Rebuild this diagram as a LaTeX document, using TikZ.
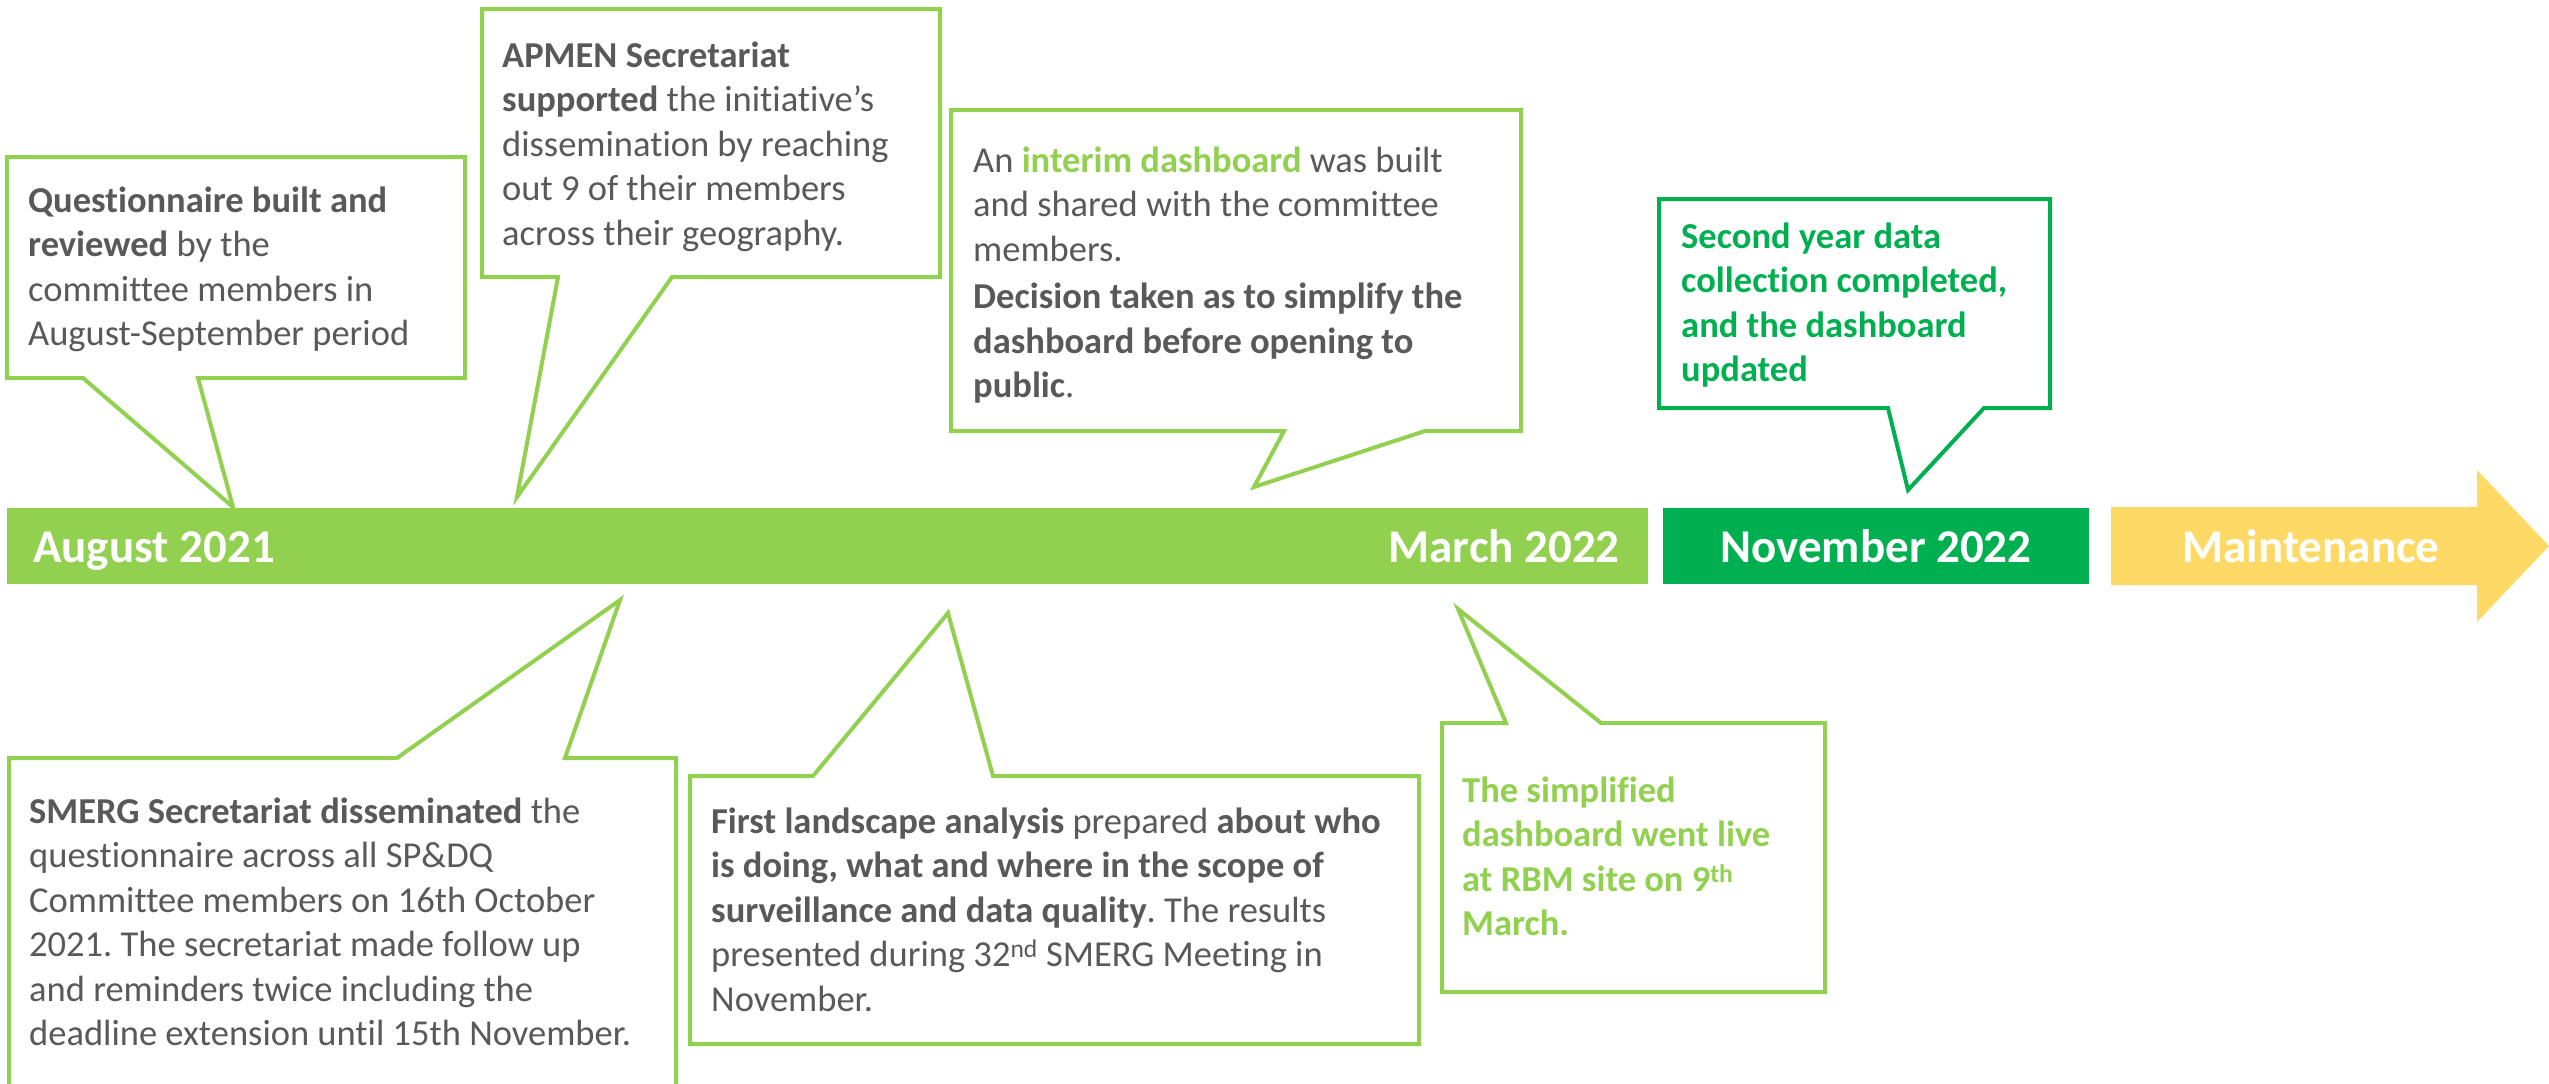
\documentclass[tikz,border=0pt]{standalone}
\usepackage{fontspec}
\setmainfont{Carlito}[Ligatures={NoCommon}]
\frenchspacing
\definecolor{lgreen}{HTML}{92D050}
\definecolor{dgreen}{HTML}{00B050}
\definecolor{yell}{HTML}{FFD966}
\definecolor{txt}{HTML}{595959}
\tikzset{
  callout/.style={draw=lgreen, line width=4pt, fill=white, line join=miter, miter limit=6},
  dcallout/.style={callout, draw=dgreen},
  bodytext/.style={anchor=north west, inner sep=0pt, align=left, text=txt,
    font=\fontsize{36.5}{44.5}\selectfont},
  barlabel/.style={inner sep=0pt, text=white, font=\fontsize{47}{56}\selectfont\bfseries}
}
\begin{document}
\begin{tikzpicture}[x=1pt,y=-1pt]
\useasboundingbox (0,0) rectangle (2549,1084);
\clip (0,0) rectangle (2549,1084);
\fill[white] (0,0) rectangle (2549,1084);

% timeline bars
\fill[lgreen] (7,508) rectangle (1648,584);
\fill[dgreen] (1663,508) rectangle (2089,584);
\fill[yell] (2111,507) -- (2477,507) -- (2477,470) -- (2549,546) -- (2477,622) -- (2477,585) -- (2111,585) -- cycle;

\node[barlabel, anchor=base west] (l1) at (33,562) {August 2021};
\node[barlabel, anchor=base east] (l2) at (1620,562) {March 2022};
\node[barlabel, anchor=base] (l3) at (1876,562) {November 2022};
\node[barlabel, anchor=base] (l4) at (2311,562) {Maintenance};

% callouts above
\draw[callout] (7,157) -- (465,157) -- (465,378) -- (198,378) -- (233,507) -- (83,378) -- (7,378) -- cycle;
\draw[callout] (482,9) -- (940,9) -- (940,277) -- (672,277) -- (517,497) -- (558,277) -- (482,277) -- cycle;
\draw[callout] (951,110) -- (1521,110) -- (1521,431) -- (1425,431) -- (1254,487) -- (1284,431) -- (951,431) -- cycle;
\draw[dcallout] (1659,199) -- (2050,199) -- (2050,408) -- (1984,408) -- (1908,490) -- (1888,408) -- (1659,408) -- cycle;

% callouts below
\draw[callout] (9,758) -- (397,758) -- (620,600) -- (565,758) -- (676,758) -- (676,1100) -- (9,1100) -- cycle;
\draw[callout] (690,776) -- (813,776) -- (948,613) -- (993,776) -- (1419,776) -- (1419,1044) -- (690,1044) -- cycle;
\draw[callout] (1442,723) -- (1506,723) -- (1458,609) -- (1601,723) -- (1825,723) -- (1825,992) -- (1442,992) -- cycle;

% texts
\node[bodytext] (t1) at (28,180.85) {\strut\textbf{Questionnaire built and}\\
\textbf{reviewed} by the\\
committee members in\\
August-September period};

\node[bodytext] (t2) at (502,35.85) {\strut\textbf{APMEN Secretariat}\\
\textbf{supported} the initiative’s\\
dissemination by reaching\\
out 9 of their members\\
across their geography.};

\node[bodytext] (t3) at (973,140.85) {\strut An \textcolor{lgreen}{\textbf{interim dashboard}} was built\\
and shared with the committee\\
members.\\[3pt]
\textbf{Decision taken as to simplify the}\\
\textbf{dashboard before opening to}\\
\textbf{public}.};

\node[bodytext, text=dgreen, font=\fontsize{36.5}{44.5}\selectfont\bfseries] (t4) at (1681,216.85) {\strut Second year data\\
collection completed,\\
and the dashboard\\
updated};

\node[bodytext] (t5) at (29,791.85) {\strut\textbf{SMERG Secretariat disseminated} the\\
questionnaire across all SP\&DQ\\
Committee members on 16th October\\
2021. The secretariat made follow up\\
and reminders twice including the\\
deadline extension until 15th November.};

\node[bodytext] (t6) at (711,801.85) {\strut\textbf{First landscape analysis} prepared \textbf{about who}\\
\textbf{is doing, what and where in the scope of}\\
\textbf{surveillance and data quality}. The results\\
presented during 32\textsuperscript{nd} SMERG Meeting in\\
November.};

\node[bodytext, text=lgreen, font=\fontsize{36.5}{44.5}\selectfont\bfseries] (t7) at (1462,770.85) {\strut The simplified\\
dashboard went live\\
at RBM site on 9\textsuperscript{th}\\
March.};
\end{tikzpicture}
\end{document}
